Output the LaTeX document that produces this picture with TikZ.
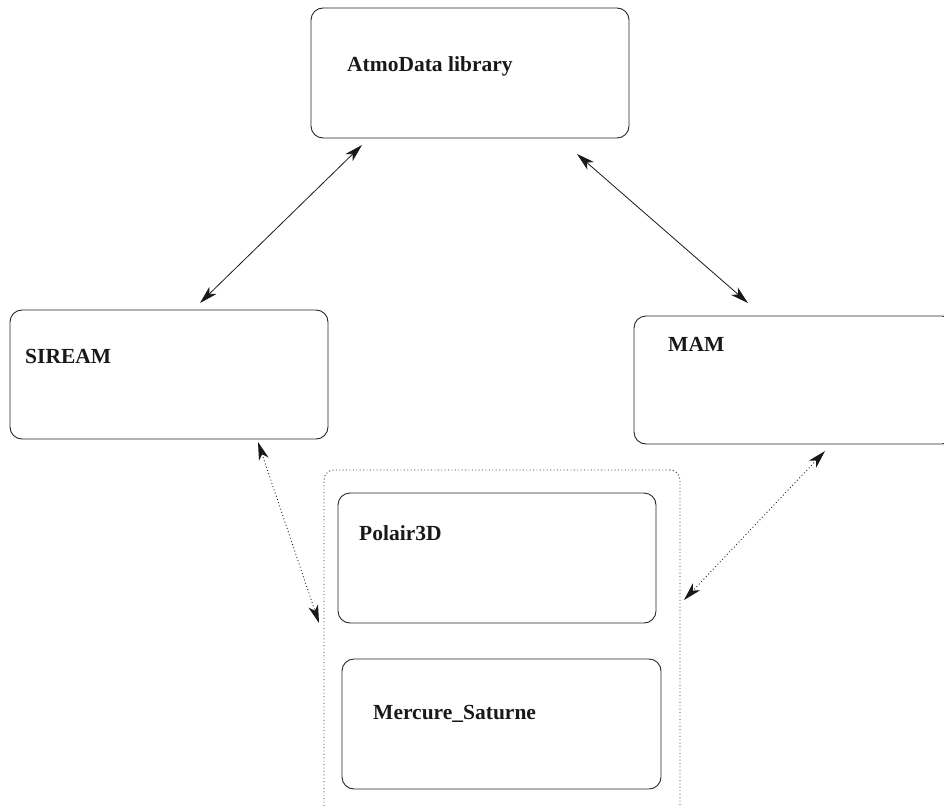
\documentclass[tikz,border=0pt]{standalone}
\usepackage{fontspec}
\setmainfont{Liberation Serif}
\usetikzlibrary{arrows.meta,calc}
\tikzset{
  box/.style={draw=black!85, line width=0.9pt, rounded corners=12pt, rectangle, inner sep=0pt, outer sep=0pt, anchor=north west},
  dots/.style={dash pattern=on 0.9pt off 2.5pt},
  dbox/.style={draw=black!85, line width=0.9pt, dots, rounded corners=10pt, rectangle, inner sep=0pt, outer sep=0pt, anchor=north west},
  lbl/.style={anchor=base west, inner sep=0pt, font=\fontsize{21.5}{24}\selectfont\bfseries, text=black!90},
  headtip/.tip={Stealth[length=18pt,width=10pt,inset=5pt]},
  link/.style={headtip-headtip, draw=black!90, line width=0.8pt},
  dlink/.style={headtip-headtip, draw=black!90, line width=0.9pt, dots}
}
\begin{document}
\begin{tikzpicture}[x=1pt,y=-1pt]
\useasboundingbox (0,0) rectangle (944,805);
\node[box, minimum width=318pt, minimum height=130pt] (atmo) at (311,8) {};
\node[box, minimum width=318pt, minimum height=129pt] (sir) at (10,310) {};
\node[box, minimum width=320pt, minimum height=128pt] (mam) at (634,316) {};
\node[dbox, minimum width=356pt, minimum height=350pt] (grp) at (324,470) {};
\node[box, minimum width=318pt, minimum height=130pt] (pol) at (338,493) {};
\node[box, minimum width=319pt, minimum height=130pt] (mer) at (342,659) {};

\node[lbl] (tatmo) at (347,72) {AtmoData library};
\node[lbl] (tsir) at (25,363) {SIREAM};
\node[lbl] (tmam) at (668,351) {MAM};
\node[lbl] (tpol) at (359,540) {Polair3D};
\node[lbl] (tmer) at (373,719) {Mercure\_Saturne};

\draw[link] ($(atmo.south west)+(51,7)$) -- ($(sir.north west)+(190,-7)$);
\draw[link] ($(atmo.south east)+(-52,16)$) -- ($(mam.north west)+(114,-13)$);
\draw[dlink] ($(sir.south west)+(248,3)$) -- ($(grp.north west)+(-5,153)$);
\draw[dlink] ($(mam.south west)+(191,7)$) -- ($(grp.north east)+(4,130)$);
\end{tikzpicture}
\end{document}
